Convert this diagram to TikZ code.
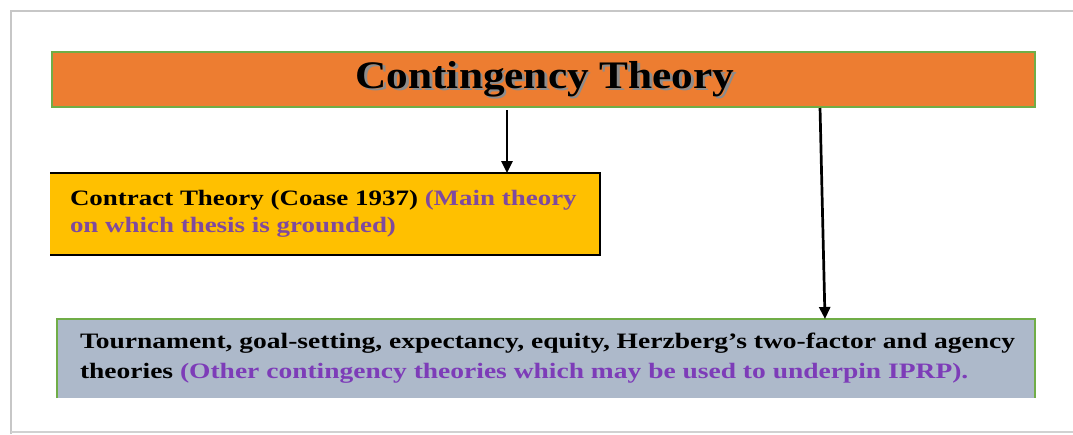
\documentclass[tikz,border=0pt]{standalone}
\usepackage{fontspec}
\setmainfont{Liberation Serif}
\usepackage{graphicx}
\usetikzlibrary{arrows.meta}
\definecolor{orangeT}{HTML}{ED7D31}
\definecolor{greenB}{HTML}{70AD47}
\definecolor{goldC}{HTML}{FFC000}
\definecolor{blueG}{HTML}{ADB9CA}
\definecolor{purpA}{HTML}{7F4A9E}
\definecolor{purpB}{HTML}{7D3CB8}
\newcommand{\titletxt}{\fontsize{39}{39}\selectfont\bfseries\scalebox{1.11}[1]{Contingency Theory}}
\begin{document}
\begin{tikzpicture}[x=1pt,y=-1pt,
  every node/.style={inner sep=0pt,outer sep=0pt},
  arr/.style={-{Triangle[length=12pt,width=11pt]},line width=2.7pt,black},
  boxtext/.style={anchor=base west,align=left}]
\useasboundingbox (0,0) rectangle (1073,434);
\fill[white] (0,0) rectangle (1073,434);
% frame
\draw[black!22,line width=1.8pt] (11,434) -- (11,11) -- (1073,11);
\draw[black!18,line width=2.5pt] (11,432) -- (1073,432);
% title
\node[draw=greenB,line width=1.2pt,fill=orangeT,minimum width=983pt,minimum height=55pt,anchor=north west] (title) at (52,52) {};
\node[anchor=base] (ttext) at (545,88) {\rlap{\raisebox{-2.5pt}{\hspace{2.5pt}\textcolor{black!45}{\titletxt}}}\titletxt};
% contract box
\node[fill=goldC,minimum width=550pt,minimum height=82pt,anchor=north west] (ct) at (50,173) {};
\draw[line width=2.5pt] (ct.north west) -- (ct.north east) -- (ct.south east) -- (ct.south west);
\node[boxtext] (ctext) at (70,205) {\fontsize{22}{27}\selectfont\bfseries\scalebox{1.225}[1]{\begin{tabular}[t]{@{}l@{}}Contract Theory (Coase 1937) \textcolor{purpA}{(Main theory}\\ \textcolor{purpA}{on which thesis is grounded)}\end{tabular}}};
% other theories box
\node[fill=blueG,minimum width=978pt,minimum height=79pt,anchor=north west] (ot) at (57,319) {};
\draw[greenB,line width=2pt] (ot.south west) -- (ot.north west) -- (ot.north east) -- (ot.south east);
\node[boxtext] (otext) at (80,348) {\fontsize{22}{30}\selectfont\bfseries\scalebox{1.25}[1]{\begin{tabular}[t]{@{}l@{}}Tournament, goal-setting, expectancy, equity, Herzberg’s two-factor and agency\\ theories \textcolor{purpB}{(Other contingency theories which may be used to underpin IPRP).}\end{tabular}}};
% arrows
\coordinate (a1x) at (507,0);
\coordinate (a2s) at (820,0);
\coordinate (a2e) at (825,0);
\draw[arr,shorten <=3pt] (title.south -| a1x) -- (ct.north -| a1x);
\draw[arr,shorten <=1pt] (title.south -| a2s) -- (ot.north -| a2e);
\end{tikzpicture}
\end{document}
